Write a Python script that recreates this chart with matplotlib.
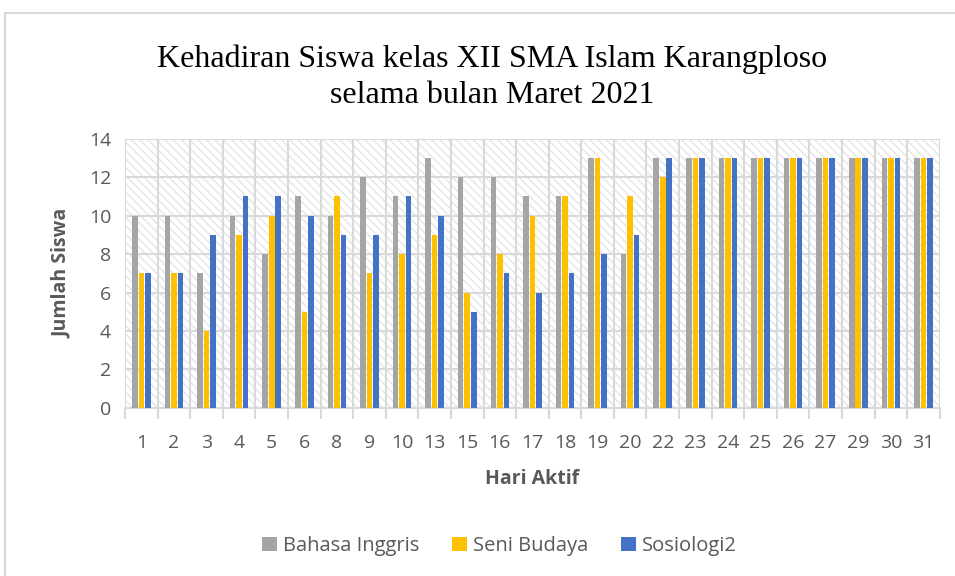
import numpy as np
import matplotlib.pyplot as plt
from matplotlib.patches import Rectangle

days = ['1', '2', '3', '4', '5', '6', '8', '9', '10', '13', '15', '16', '17', '18',
        '19', '20', '22', '23', '24', '25', '26', '27', '29', '30', '31']
bahasa_inggris = [10, 10, 7, 10, 8, 11, 10, 12, 11, 13, 12, 12, 11, 11, 13, 8, 13,
                  13, 13, 13, 13, 13, 13, 13, 13]
seni_budaya = [7, 7, 4, 9, 10, 5, 11, 7, 8, 9, 6, 8, 10, 11, 13, 11, 12,
               13, 13, 13, 13, 13, 13, 13, 13]
sosiologi = [7, 7, 9, 11, 11, 10, 9, 9, 11, 10, 5, 7, 6, 7, 8, 9, 13,
             13, 13, 13, 13, 13, 13, 13, 13]

plt.rcParams['font.family'] = ['Open Sans', 'DejaVu Sans']
txt = '#595959'
grid = '#d9d9d9'

fig = plt.figure(figsize=(9.55, 5.76), dpi=100)
fig.patches.append(Rectangle((5 / 955, -0.1), 1.2, (576 - 13) / 576 + 0.1,
                             transform=fig.transFigure, fill=False,
                             edgecolor=grid, linewidth=1.5))
ax = fig.add_axes([0.131, 0.292, 0.853, 0.467])

x = np.arange(len(days))
w = 0.17
ax.bar(x - 0.2, bahasa_inggris, w, color='#a5a5a5', label='Bahasa Inggris', zorder=3)
ax.bar(x, seni_budaya, w, color='#ffc000', label='Seni Budaya', zorder=3)
ax.bar(x + 0.2, sosiologi, w, color='#4472c4', label='Sosiologi2', zorder=3)

ax.set_xlim(-0.5, len(days) - 0.5)
ax.set_ylim(0, 14)
ax.set_yticks(range(0, 15, 2))
ax.set_xticks(x)
ax.set_xticklabels(days)
ax.set_xticks(np.arange(-0.5, len(days)), minor=True)

ax.patch.set_facecolor('white')
ax.patch.set_hatch('\\\\\\\\')
ax.patch.set_edgecolor('#e6e6e6')
ax.grid(axis='y', color=grid, linewidth=1.5, zorder=1)
ax.grid(axis='x', which='minor', color=grid, linewidth=1.5, zorder=1)
ax.grid(axis='x', which='major', visible=False)
for s in ['top', 'left', 'right']:
    ax.spines[s].set_visible(False)
ax.spines['bottom'].set_color(grid)
ax.spines['bottom'].set_linewidth(1.5)
ax.tick_params(axis='x', which='major', length=0, labelsize=14, labelcolor=txt, pad=19)
ax.tick_params(axis='x', which='minor', length=8, color=grid, width=1.5)
ax.tick_params(axis='y', length=0, labelsize=14, labelcolor=txt, pad=10)

ax.set_xlabel('Hari Aktif', fontsize=14, fontweight='bold', color=txt, labelpad=12)
ax.set_ylabel('Jumlah Siswa', fontsize=14, fontweight='bold', color=txt, labelpad=12)

fig.text(0.515, 0.866, 'Kehadiran Siswa kelas XII SMA Islam Karangploso\nselama bulan Maret 2021',
         ha='center', va='center', fontsize=23, family='Liberation Serif',
         linespacing=1.3)

fig.legend(loc='center', bbox_to_anchor=(0.523, 0.052), ncol=3, frameon=False,
           fontsize=14.5, labelcolor=txt, handlelength=0.75, handleheight=0.75,
           handletextpad=0.3, columnspacing=1.6)

fig.savefig('out.png', dpi=100)
